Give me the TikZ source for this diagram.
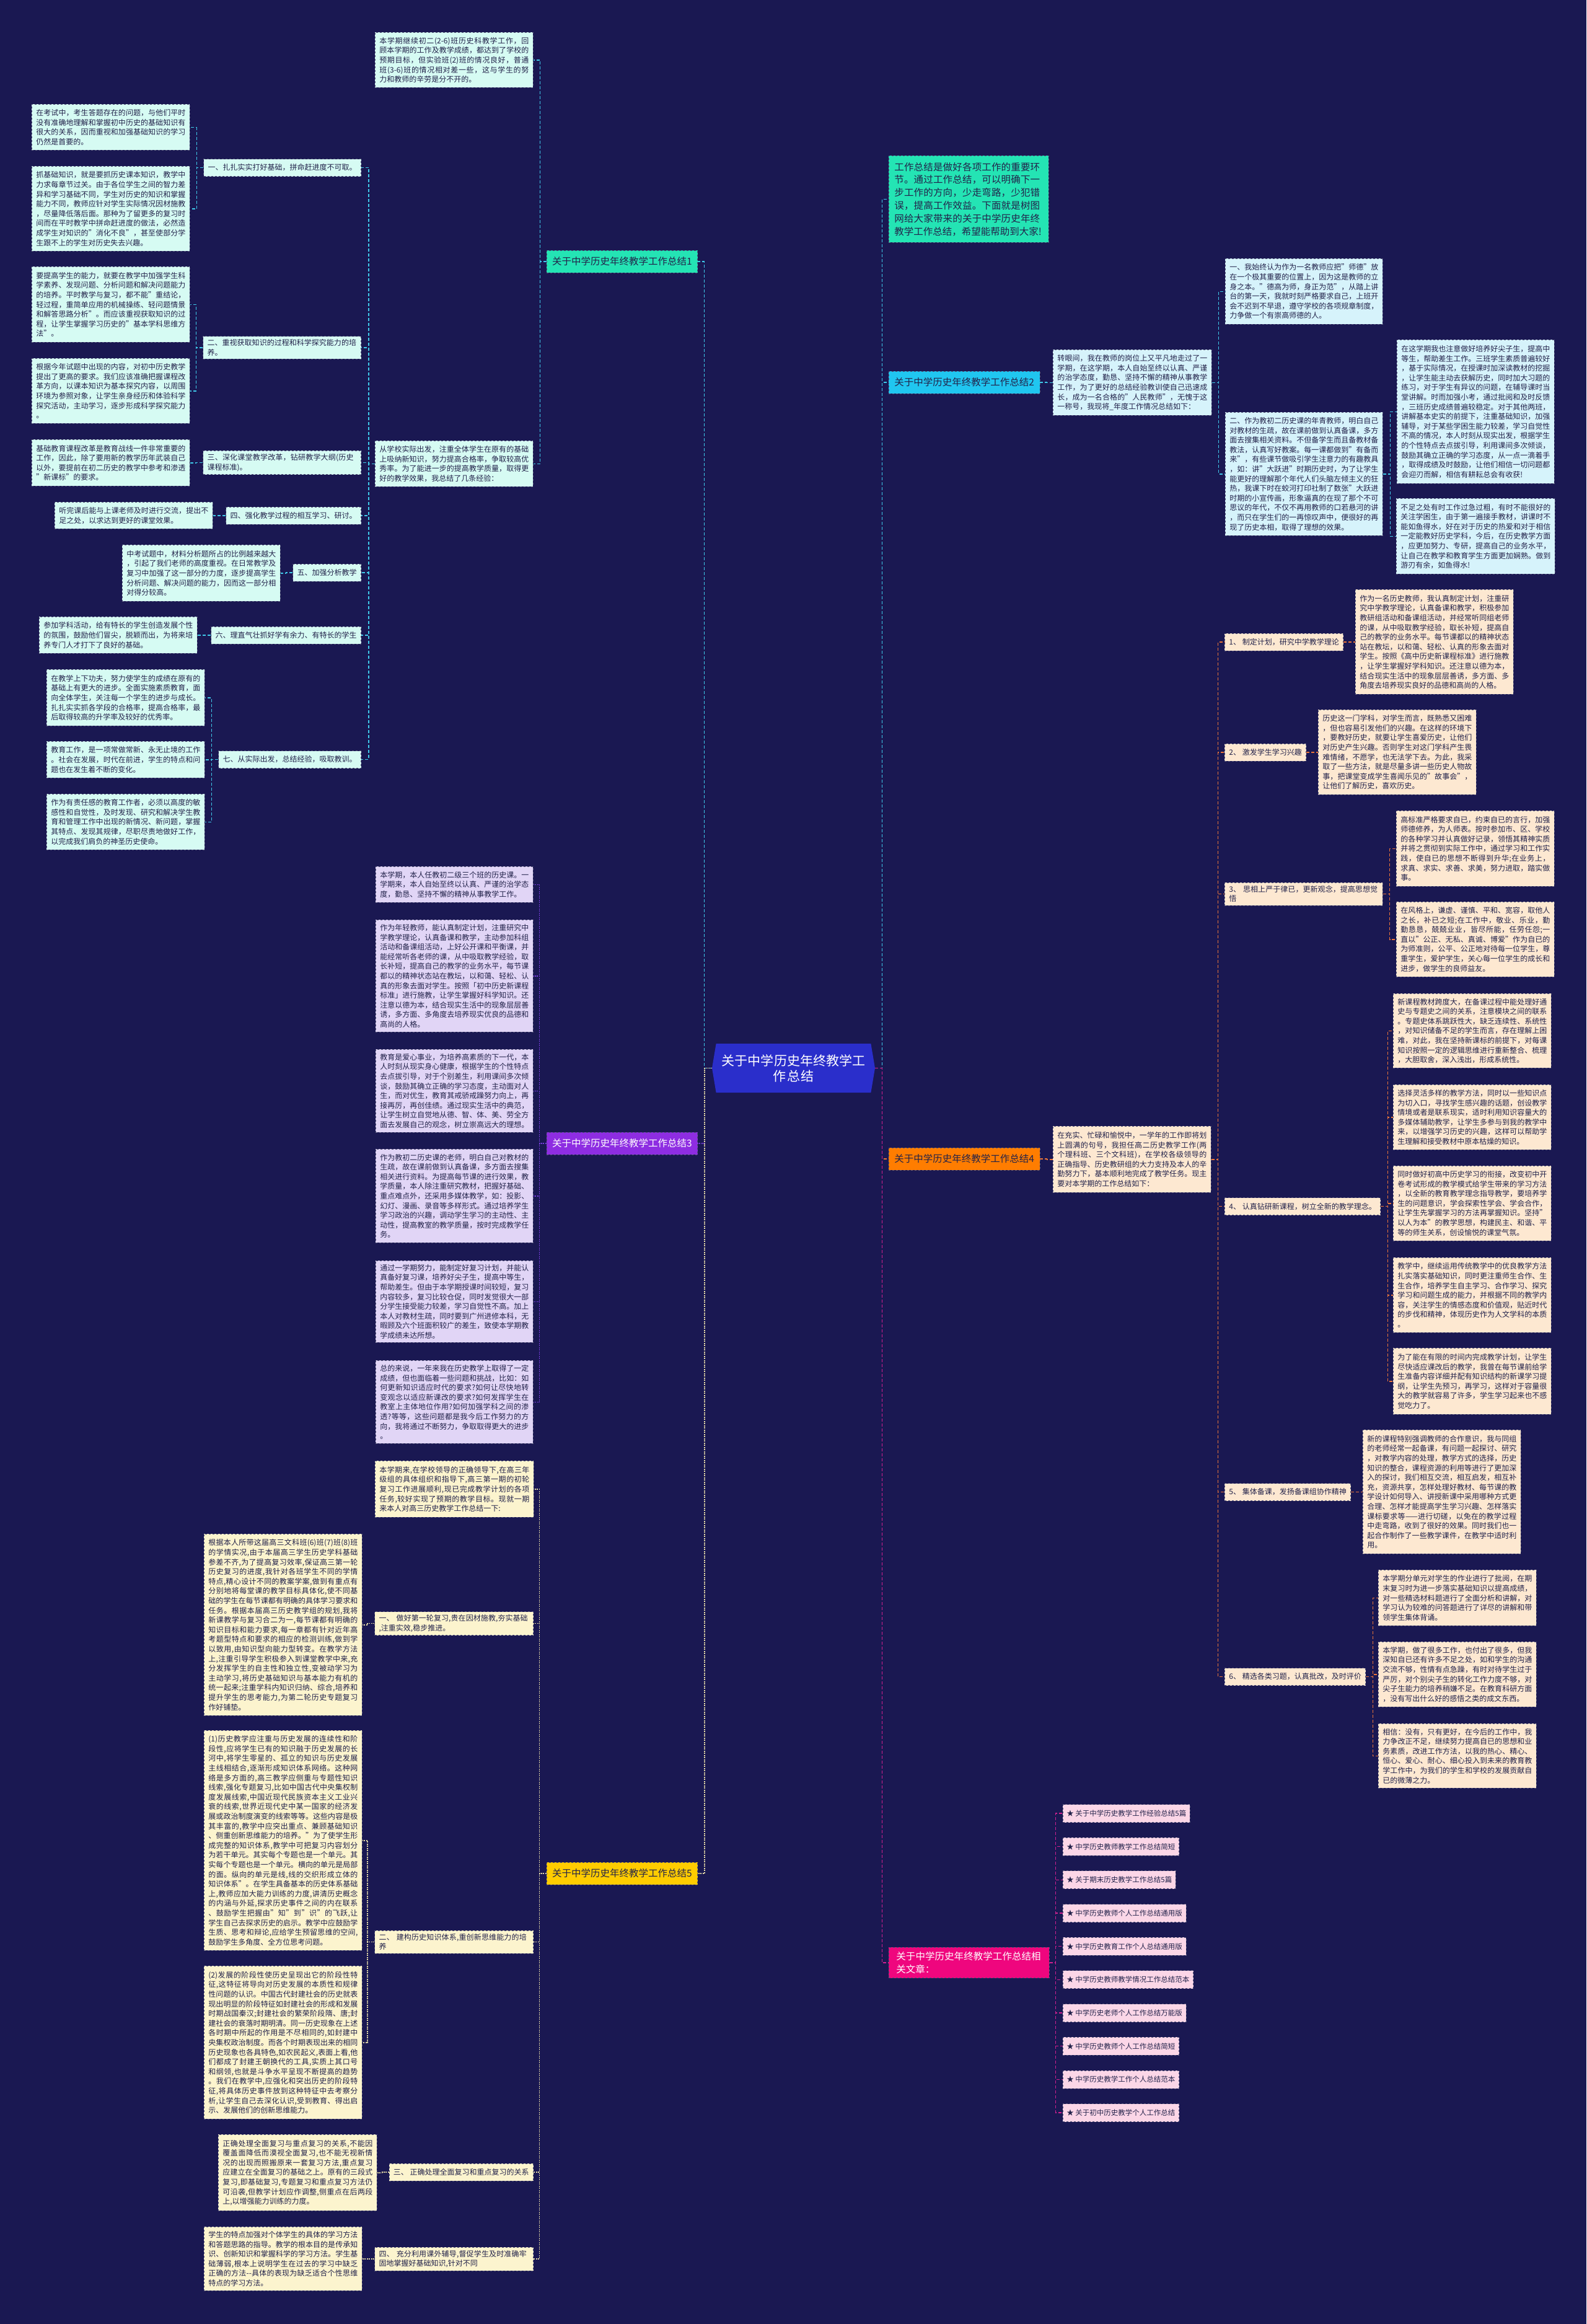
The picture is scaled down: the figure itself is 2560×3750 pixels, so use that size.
\documentclass[tikz,border=0pt]{standalone}
\usepackage{fontspec}
\setmainfont{Noto Sans CJK SC}
% break between any two CJK characters
\XeTeXinterchartokenstate=1
\newcount\cjkcode
\cjkcode="3000 \loop \XeTeXcharclass\cjkcode=1 \advance\cjkcode by 1 \ifnum\cjkcode<"3100 \repeat
\cjkcode="4E00 \loop \XeTeXcharclass\cjkcode=1 \advance\cjkcode by 1 \ifnum\cjkcode<"A000 \repeat
\cjkcode="FF00 \loop \XeTeXcharclass\cjkcode=1 \advance\cjkcode by 1 \ifnum\cjkcode<"FFF0 \repeat
\XeTeXinterchartoks 1 1 = {\hskip 0pt plus 1pt\relax}
\XeTeXinterchartoks 0 1 = {\hskip 0pt plus 1pt\relax}
\XeTeXinterchartoks 1 0 = {\hskip 0pt plus 1pt\relax}
\usepackage{tikz}
\usepackage{xcolor}
\usetikzlibrary{shapes.symbols, positioning}
\definecolor{Night_Navy}{HTML}{1A1852}
\definecolor{Core_Blue}{HTML}{2A2ECB}
\definecolor{Ink_Dark}{HTML}{22224A}
\definecolor{Box_Edge}{HTML}{55557A}
\definecolor{Sea_Teal}{HTML}{24E4B4}
\definecolor{Sky_Cyan}{HTML}{20C6F0}
\definecolor{Deep_Violet}{HTML}{8E2DE2}
\definecolor{Sun_Orange}{HTML}{FF7D00}
\definecolor{Gold_Yellow}{HTML}{FFCC00}
\definecolor{Hot_Pink}{HTML}{EF067E}
\definecolor{Mint_Fill}{HTML}{D6FBF3}
\definecolor{Ice_Fill}{HTML}{D6F3FB}
\definecolor{Lilac_Fill}{HTML}{E1D5F6}
\definecolor{Peach_Fill}{HTML}{FDE8D1}
\definecolor{Cream_Fill}{HTML}{FCF4CE}
\definecolor{Rose_Fill}{HTML}{FBD6E7}
\definecolor{Link_Cyan}{HTML}{3FC8E8}
\definecolor{Link_Violet}{HTML}{7A3FE0}
\definecolor{Link_Orange}{HTML}{E8743A}
\definecolor{Link_Straw}{HTML}{E6DCA8}
\definecolor{Link_Magenta}{HTML}{D0208F}

\begin{document}
\begin{tikzpicture}[x=1pt, y=-1pt,
    card/.style={draw=Box_Edge, dashed, line width=0.8pt, inner xsep=7pt, inner ysep=5pt,
        text=Ink_Dark, font=\fontsize{12}{15.6}\selectfont},
    leaf/.style={card, anchor=north west, text width=241pt, align=justify},
    mintbox/.style={leaf, fill=Mint_Fill},
    icebox/.style={leaf, fill=Ice_Fill},
    lilacbox/.style={leaf, fill=Lilac_Fill},
    peachbox/.style={leaf, fill=Peach_Fill},
    creambox/.style={leaf, fill=Cream_Fill},
    tagbox/.style={card, minimum height=28pt},
    branch/.style={draw=Box_Edge, dashed, line width=0.8pt, inner xsep=9pt, inner ysep=6pt,
        minimum height=36pt, font=\fontsize{15.5}{20.8}\selectfont},
    hub/.style={shape=signal, signal to=west and east, signal pointer angle=161, fill=Core_Blue,
        text=white, font=\fontsize{21}{25}\selectfont, align=center, text width=232pt,
        minimum width=263pt, minimum height=79pt},
    linkone/.style={draw=Link_Cyan, line width=1.3pt, dash pattern=on 5pt off 3pt},
    linkthree/.style={draw=Link_Violet, line width=1.6pt, dash pattern=on 2pt off 1.5pt},
    linkfour/.style={draw=Link_Orange, line width=1.3pt, dash pattern=on 5pt off 3pt},
    linkfive/.style={draw=Link_Straw, line width=1.6pt, dash pattern=on 2pt off 1.5pt},
    linksix/.style={draw=Link_Magenta, line width=1.3pt, dash pattern=on 5pt off 3pt}]

    % Background
    \fill[Night_Navy] (0,0) rectangle (2560,3750);
    \useasboundingbox (0,0) rectangle (2560,3750);

    % Centre
    \node[hub] (ctr) at (1280.5,1723.5) {关于中学历史年终教学工\\作总结};

    % Summary 1
    \node[branch, fill=Sea_Teal, text=Ink_Dark, anchor=east] (b1) at (1126,422) {关于中学历史年终教学工作总结1};
    \node[mintbox, minimum height=89pt] (i1a) at (605,52) {本学期继续初二(2-6)班历史科教学工作，回顾本学期的工作及教学成绩，都达到了学校的预期目标，但实验班(2)班的情况良好，普通班(3-6)班的情况相对差一些，这与学生的努力和教师的辛劳是分不开的。};
    \node[mintbox, minimum height=74pt] (i1b) at (605,711) {从学校实际出发，注重全体学生在原有的基础上吸纳新知识，努力提高合格率，争取较高优秀率。为了能进一步的提高教学质量，取得更好的教学效果，我总结了几条经验：};
    \node[tagbox, fill=Mint_Fill, anchor=east] (n11) at (583,270.5) {一、扎扎实实打好基础，拼命赶进度不可取。};
    \node[tagbox, fill=Mint_Fill, anchor=east, text width=241pt] (n12) at (583,561) {二、重视获取知识的过程和科学探究能力的培养。};
    \node[tagbox, fill=Mint_Fill, anchor=east, text width=241pt] (n13) at (583,746.5) {三、深化课堂教学改革，钻研教学大纲(历史课程标准)。};
    \node[tagbox, fill=Mint_Fill, anchor=east] (n14) at (583,832) {四、强化教学过程的相互学习、研讨。};
    \node[tagbox, fill=Mint_Fill, anchor=east] (n15) at (583,924) {五、加强分析教学};
    \node[tagbox, fill=Mint_Fill, anchor=east] (n16) at (583,1025) {六、理直气壮抓好学有余力、有特长的学生};
    \node[tagbox, fill=Mint_Fill, anchor=east] (n17) at (583,1225.5) {七、从实际出发，总结经验，吸取教训。};
    \node[mintbox, minimum height=74pt] (l1a) at (51,168) {在考试中，考生答题存在的问题，与他们平时没有准确地理解和掌握初中历史的基础知识有很大的关系，因而重视和加强基础知识的学习仍然是首要的。};
    \node[mintbox, minimum height=137pt] (l1b) at (51,268) {抓基础知识，就是要抓历史课本知识，教学中力求每章节过关。由于各位学生之间的智力差异和学习基础不同，学生对历史的知识和掌握能力不同，教师应针对学生实际情况因材施教，尽量降低落后面。那种为了留更多的复习时间而在平时教学中拼命赶进度的做法，必然造成学生对知识的"消化不良"，甚至使部分学生跟不上的学生对历史失去兴趣。};
    \node[mintbox, minimum height=122pt] (l1c) at (51,430) {要提高学生的能力，就要在教学中加强学生科学素养、发现问题、分析问题和解决问题能力的培养。平时教学与复习，都不能"重结论，轻过程，重简单应用的机械操练、轻问题情景和解答思路分析"。而应该重视获取知识的过程，让学生掌握学习历史的"基本学科思维方法"。};
    \node[mintbox, minimum height=105pt] (l1d) at (51,578) {根据今年试题中出现的内容，对初中历史教学提出了更高的要求。我们应该准确把握课程改革方向，以课本知识为基本探究内容，以周围环境为参照对象，让学生亲身经历和体验科学探究活动，主动学习，逐步形成科学探究能力。};
    \node[mintbox, minimum height=75pt] (l1e) at (51,709) {基础教育课程改革是教育战线一件非常重要的工作，因此，除了要用新的教学历年武装自己以外，要提前在初二历史的教学中参考和渗透"新课标"的要求。};
    \node[mintbox, minimum height=43pt] (l1f) at (88,810) {听完课后能与上课老师及时进行交流，提出不足之处，以求达到更好的课堂效果。};
    \node[mintbox, minimum height=91pt] (l1g) at (197,879) {中考试题中，材料分析题所占的比例越来越大，引起了我们老师的高度重视。在日常教学及复习中加强了这一部分的力度，逐步提高学生分析问题、解决问题的能力，因而这一部分相对得分较高。};
    \node[mintbox, minimum height=59pt] (l1h) at (63,995) {参加学科活动，给有特长的学生创造发展个性的氛围，鼓励他们冒尖，脱颖而出，为将来培养专门人才打下了良好的基础。};
    \node[mintbox, minimum height=91pt] (l1i) at (75,1080) {在教学上下功夫，努力使学生的成绩在原有的基础上有更大的进步。全面实施素质教育，面向全体学生，关注每一个学生的进步与成长。扎扎实实抓各学段的合格率，提高合格率，最后取得较高的升学率及较好的优秀率。};
    \node[mintbox, minimum height=59pt] (l1j) at (75,1196) {教育工作，是一项常做常新、永无止境的工作。社会在发展，时代在前进，学生的特点和问题也在发生着不断的变化。};
    \node[mintbox, minimum height=90pt] (l1k) at (75,1281) {作为有责任感的教育工作者，必须以高度的敏感性和自觉性，及时发现、研究和解决学生教育和管理工作中出现的新情况、新问题，掌握其特点、发现其规律，尽职尽责地做好工作，以完成我们肩负的神圣历史使命。};

    \draw[linkone] (ctr.west) -- ++(-12,0) |- (b1.east);
    \foreach \k in {i1a, i1b} \draw[linkone] (b1.west) -- ++(-10,0) |- (\k.east);
    \foreach \k in {n11, n12, n13, n14, n15, n16, n17} \draw[linkone] (i1b.west) -- ++(-10,0) |- (\k.east);
    \foreach \p/\k in {n11/l1a, n11/l1b, n12/l1c, n12/l1d, n13/l1e, n14/l1f, n15/l1g, n16/l1h, n17/l1i, n17/l1j, n17/l1k}
        \draw[linkone] (\p.west) -- ++(-11,0) |- (\k.east);

    % Intro and summary 2
    \node[branch, fill=Sea_Teal, text=Ink_Dark, anchor=north west, text width=240pt, inner xsep=9pt, inner ysep=7pt, minimum height=140pt] (intro) at (1434,251) {工作总结是做好各项工作的重要环节。通过工作总结，可以明确下一步工作的方向，少走弯路，少犯错误，提高工作效益。下面就是树图网给大家带来的关于中学历史年终教学工作总结，希望能帮助到大家!};
    \node[branch, fill=Sky_Cyan, text=Ink_Dark, anchor=west] (b2) at (1434,617) {关于中学历史年终教学工作总结2};
    \node[icebox, text width=242pt, minimum height=106pt] (i2) at (1699,564) {转眼间，我在教师的岗位上又平凡地走过了一学期，在这学期，本人自始至终以认真、严谨的治学态度，勤恳、坚持不懈的精神从事教学工作，为了更好的总结经验教训使自己迅速成长，成为一名合格的"人民教师"，无愧于这一称号，我现将\_年度工作情况总结如下：};
    \node[icebox, text width=240pt, minimum height=106pt] (n21) at (1977,417) {一、我始终认为作为一名教师应把"师德"放在一个极其重要的位置上，因为这是教师的立身之本。"德高为师，身正为范"，从踏上讲台的第一天，我就时刻严格要求自己，上班开会不迟到不早退，遵守学校的各项规章制度，力争做一个有崇高师德的人。};
    \node[icebox, text width=240pt, minimum height=199pt] (n22) at (1977,665) {二、作为教初二历史课的年青教师，明白自己对教材的生疏，故在课前做到认真备课，多方面去搜集相关资料。不但备学生而且备教材备教法，认真写好教案。每一课都做到"有备而来"，有些课节做吸引学生注意力的有趣教具，如：讲"大跃进"时期历史时，为了让学生能更好的理解那个年代人们头脑左倾主义的狂热，我课下时在蛟河打印社制了数张"大跃进时期的小宣传画，形象逼真的在现了那个不可思议的年代，不仅不再用教师的口若悬河的讲，而只在学生们的一再惊叹声中，便很好的再现了历史本相，取得了理想的效果。};
    \node[icebox, text width=240pt, minimum height=232pt] (l2a) at (2254,548) {在这学期我也注意做好培养好尖子生，提高中等生，帮助差生工作。三班学生素质普遍较好，基于实际情况，在授课时加深读教材的挖掘，让学生能主动去获解历史，同时加大习题的练习，对于学生有异议的问题，在辅导课时当堂讲解。时而加强小考，通过批阅和及时反馈，三班历史成绩普遍较稳定。对于其他两班，讲解基本史实的前提下，注重基础知识，加强辅导，对于某些学困生能力较差，学习自觉性不高的情况，本人时刻从现实出发，根据学生的个性特点去点拔引导，利用课间多次倾谈，鼓励其确立正确的学习态度，从一点一滴着手，取得成绩及时鼓励，让他们相信一切问题都会迎刃而解，相信有耕耘总会有收获!};
    \node[icebox, text width=242pt, minimum height=122pt] (l2b) at (2253,804) {不足之处有时工作过急过粗，有时不能很好的关注学困生，由于第一遍接手教材，讲课时不能如鱼得水，好在对于历史的热爱和对于相信一定能教好历史学科，今后，在历史教学方面，应更加努力、专研，提高自己的业务水平，让自己在教学和教育学生方面更加娴熟。做到游刃有余，如鱼得水!};

    \foreach \k in {intro, b2} \draw[linkone] (ctr.east) -- ++(11,0) |- (\k.west);
    \draw[linkone] (b2.east) -- ++(11,0) |- (i2.west);
    \foreach \k in {n21, n22} \draw[linkone] (i2.east) -- ++(11,0) |- (\k.west);
    \foreach \k in {l2a, l2b} \draw[linkone] (n22.east) -- ++(12,0) |- (\k.west);

    % Summary 3
    \node[branch, fill=Deep_Violet, text=white, anchor=east] (b3) at (1126,1845) {关于中学历史年终教学工作总结3};
    \node[lilacbox, text width=240pt, minimum height=58pt] (l3a) at (606,1398) {本学期，本人任教初二级三个班的历史课。一学期来，本人自始至终以认真、严谨的治学态度，勤恳、坚持不懈的精神从事教学工作。};
    \node[lilacbox, text width=240pt, minimum height=181pt] (l3b) at (606,1484) {作为年轻教师，能认真制定计划，注重研究中学教学理论，认真备课和教学，主动参加科组活动和备课组活动，上好公开课和平衡课，并能经常听各老师的课，从中吸取教学经验，取长补短，提高自己的教学的业务水平，每节课都以的精神状态站在教坛，以和蔼、轻松、认真的形象去面对学生。按照「初中历史新课程标准」进行施教，让学生掌握好科学知识。还注意以德为本，结合现实生活中的现象层层善诱，多方面、多角度去培养现实优良的品德和高尚的人格。};
    \node[lilacbox, text width=240pt, minimum height=134pt] (l3c) at (606,1693) {教育是爱心事业，为培养高素质的下一代，本人时刻从现实身心健康，根据学生的个性特点去点拔引导，对于个别差生，利用课间多次倾谈，鼓励其确立正确的学习态度，主动面对人生，而对优生，教育其戒骄戒躁努力向上，再接再厉，再创佳绩。通过现实生活中的典范，让学生树立自觉地从德、智、体、美、劳全方面去发展自己的观念，树立崇高远大的理想。};
    \node[lilacbox, text width=240pt, minimum height=151pt] (l3d) at (606,1854) {作为教初二历史课的老师，明白自己对教材的生疏，故在课前做到认真备课，多方面去搜集相关进行资料。为提高每节课的进行效果，教学质量，本人除注重研究教材，把握好基础、重点难点外，还采用多媒体教学，如：投影、幻灯、漫画、录音等多样形式。通过培养学生学习政治的兴趣，调动学生学习的主动性、主动性，提高教室的教学质量，按时完成教学任务。};
    \node[lilacbox, text width=240pt, minimum height=132pt] (l3e) at (606,2034) {通过一学期努力，能制定好复习计划，并能认真备好复习课，培养好尖子生，提高中等生，帮助差生。但由于本学期授课时间较短，复习内容较多，复习比较仓促，同时发觉很大一部分学生接受能力较差，学习自觉性不高。加上本人对教材生疏，同时要到广州进修本科，无暇顾及六个班面积较广的差生，致使本学期教学成绩未达所想。};
    \node[lilacbox, text width=240pt, minimum height=134pt] (l3f) at (606,2195) {总的来说，一年来我在历史教学上取得了一定成绩，但也面临着一些问题和挑战，比如：如何更新知识适应时代的要求?如何让尽快地转变观念以适应新课改的要求?如何发挥学生在教室上主体地位作用?如何加强学科之间的渗透?等等，这些问题都是我今后工作努力的方向，我将通过不断努力，争取取得更大的进步。};

    \draw[linkthree] (ctr.west) -- ++(-12,0) |- (b3.east);
    \foreach \k in {l3a, l3b, l3c, l3d, l3e, l3f} \draw[linkthree] (b3.west) -- ++(-11,0) |- (\k.east);

    % Summary 4
    \node[branch, fill=Sun_Orange, text=Ink_Dark, anchor=west] (b4) at (1434,1870) {关于中学历史年终教学工作总结4};
    \node[peachbox, minimum height=107pt] (i4) at (1699,1817) {在充实、忙碌和愉悦中，一学年的工作即将划上圆满的句号，我担任高二历史教学工作(两个理科班、三个文科班)，在学校各级领导的正确指导、历史教研组的大力支持及本人的辛勤努力下，基本顺利地完成了教学任务。现主要对本学期的工作总结如下：};
    \node[tagbox, fill=Peach_Fill, anchor=west] (n41) at (1976,1036) {1、 制定计划，研究中学教学理论};
    \node[tagbox, fill=Peach_Fill, anchor=west] (n42) at (1976,1214) {2、 激发学生学习兴趣};
    \node[tagbox, fill=Peach_Fill, anchor=west, text width=241pt] (n43) at (1976,1442.5) {3、 思相上严于律已，更新观念，提高思想觉悟};
    \node[tagbox, fill=Peach_Fill, anchor=west] (n44) at (1976,1946.5) {4、 认真钻研新课程，树立全新的教学理念。};
    \node[tagbox, fill=Peach_Fill, anchor=west] (n45) at (1976,2407.5) {5、 集体备课，发扬备课组协作精神};
    \node[tagbox, fill=Peach_Fill, anchor=west] (n46) at (1976,2705.5) {6、 精选各类习题，认真批改，及时评价};
    \node[peachbox, minimum height=169pt] (l4a) at (2187,951) {作为一名历史教师，我认真制定计划，注重研究中学教学理论，认真备课和教学，积极参加教研组活动和备课组活动，并经常听同组老师的课，从中吸取教学经验，取长补短，提高自己的教学的业务水平。每节课都以的精神状态站在教坛，以和蔼、轻松、认真的形象去面对学生。按照《高中历史新课程标准》进行施教，让学生掌握好学科知识。还注意以德为本，结合现实生活中的现象层层善诱，多方面、多角度去培养现实良好的品德和高尚的人格。};
    \node[peachbox, minimum height=137pt] (l4b) at (2127,1145) {历史这一门学科，对学生而言，既熟悉又困难，但也容易引发他们的兴趣。在这样的环境下，要教好历史，就要让学生喜爱历史，让他们对历史产生兴趣。否则学生对这门学科产生畏难情绪，不愿学，也无法学下去。为此，我采取了一些方法，就是尽量多讲一些历史人物故事，把课堂变成学生喜闻乐见的"故事会"，让他们了解历史，喜欢历史。};
    \node[peachbox, minimum height=122pt] (l4c) at (2253,1308) {高标准严格要求自已，约束自已的言行，加强师德修养，为人师表。按时参加市、区、学校的各种学习并认真做好记录，领悟其精神实质并将之贯彻到实际工作中，通过学习和工作实践，使自已的思想不断得到升华;在业务上，求真、求实、求善、求美，努力进取，踏实做事。};
    \node[peachbox, minimum height=121pt] (l4d) at (2253,1455) {在风格上，谦虚、谨慎、平和、宽容，取他人之长，补已之短;在工作中，敬业、乐业，勤勤恳恳，兢兢业业，皆尽所能，任劳任怨;一直以"公正、无私、真诚、博爱"作为自已的为师准则，公平、公正地对待每一位学生，尊重学生，爱护学生，关心每一位学生的成长和进步，做学生的良师益友。};
    \node[peachbox, minimum height=120pt] (l4e) at (2248,1603) {新课程教材跨度大，在备课过程中能处理好通史与专题史之间的关系，注意模块之间的联系。专题史体系跳跃性大，缺乏连续性、系统性，对知识储备不足的学生而言，存在理解上困难，对此，我在坚持新课标的前提下，对每课知识按照一定的逻辑思维进行重新整合、梳理，大胆取舍，深入浅出，形成系统性。};
    \node[peachbox, minimum height=105pt] (l4f) at (2248,1750) {选择灵活多样的教学方法，同时以一些知识点为切入口，寻找学生感兴趣的话题，创设教学情境或者是联系现实，适时利用知识容量大的多媒体辅助教学，让学生多参与到我的教学中来，以增强学习历史的兴趣，这样可以帮助学生理解和接受教材中原本枯燥的知识。};
    \node[peachbox, minimum height=121pt] (l4g) at (2248,1881) {同时做好初高中历史学习的衔接，改变初中开卷考试形成的教学模式给学生带来的学习方法，以全新的教育教学理念指导教学，要培养学生的问题意识，学会探索性学会、学会合作，让学生先掌握学习的方法再掌握知识。坚持"以人为本"的教学思想，构建民主、和谐、平等的师生关系，创设愉悦的课堂气氛。};
    \node[peachbox, minimum height=121pt] (l4h) at (2248,2029) {教学中，继续运用传统教学中的优良教学方法扎实落实基础知识，同时更注重师生合作、生生合作，培养学生自主学习、合作学习、探究学习和问题生成的能力，并根据不同的教学内容，关注学生的情感态度和价值观，贴近时代的步伐和精神，体现历史作为人文学科的本质。};
    \node[peachbox, minimum height=107pt] (l4i) at (2248,2175) {为了能在有限的时间内完成教学计划，让学生尽快适应课改后的教学，我曾在每节课前给学生准备内容详细并配有知识结构的新课学习提纲，让学生先预习，再学习，这样对于容量很大的教学就容易了许多，学生学习起来也不感觉吃力了。};
    \node[peachbox, minimum height=200pt] (l4j) at (2199,2307) {新的课程特别强调教师的合作意识，我与同组的老师经常一起备课，有问题一起探讨、研究，对教学内容的处理，教学方式的选择，历史知识的整合，课程资源的利用等进行了更加深入的探讨，我们相互交流，相互启发，相互补充，资源共享，怎样处理好教材、每节课的教学设计如何导入、讲授新课中采用哪种方式更合理、怎样才能提高学生学习兴趣、怎样落实课标要求等——进行切磋，以免在的教学过程中走弯路，收到了很好的效果。同时我们也一起合作制作了一些教学课件，在教学中适时利用。};
    \node[peachbox, minimum height=90pt] (l4k) at (2224,2533) {本学期分单元对学生的作业进行了批阅，在期末复习时为进一步落实基础知识以提高成绩，对一些精选材料题进行了全面分析和讲解，对学习认为较难的问答题进行了详尽的讲解和带领学生集体背诵。};
    \node[peachbox, minimum height=105pt] (l4l) at (2224,2649) {本学期，做了很多工作，也付出了很多，但我深知自已还有许多不足之处，如和学生的沟通交流不够，性情有点急躁，有时对待学生过于严厉，对个别尖子生的转化工作力度不够，对尖子生能力的培养稍嫌不足。在教育科研方面，没有写出什么好的感悟之类的成文东西。};
    \node[peachbox, minimum height=104pt] (l4m) at (2224,2781) {相信：没有，只有更好，在今后的工作中，我力争改正不足，继续努力提高自已的思想和业务素质，改进工作方法，以我的热心、精心、恒心、爱心、耐心、细心投入到未来的教育教学工作中，为我们的学生和学校的发展贡献自已的微薄之力。};

    \draw[linkfour] (ctr.east) -- ++(11,0) |- (b4.west);
    \draw[linkfour] (b4.east) -- ++(11,0) |- (i4.west);
    \foreach \k in {n41, n42, n43, n44, n45, n46} \draw[linkfour] (i4.east) -- ++(11,0) |- (\k.west);
    \foreach \p/\k in {n41/l4a, n42/l4b, n43/l4c, n43/l4d, n44/l4e, n44/l4f, n44/l4g, n44/l4h, n44/l4i, n45/l4j, n46/l4k, n46/l4l, n46/l4m}
        \draw[linkfour] (\p.east) -- ++(11,0) |- (\k.west);

    % Summary 5
    \node[branch, fill=Gold_Yellow, text=Ink_Dark, anchor=east] (b5) at (1126,3023) {关于中学历史年终教学工作总结5};
    \node[creambox, text width=242pt, minimum height=91pt] (i5) at (605,2357) {本学期来,在学校领导的正确领导下,在高三年级组的具体组织和指导下,高三第一期的初轮复习工作进展顺利,现已完成教学计划的各项任务,较好实现了预期的教学目标。现就一期来本人对高三历史教学工作总结一下:};
    \node[tagbox, fill=Cream_Fill, anchor=east, text width=242pt] (n51) at (861,2619.5) {一、 做好第一轮复习,贵在因材施教,夯实基础,注重实效,稳步推进。};
    \node[tagbox, fill=Cream_Fill, anchor=east, text width=242pt] (n52) at (861,3133.5) {二、 建构历史知识体系,重创新思维能力的培养};
    \node[tagbox, fill=Cream_Fill, anchor=east] (n53) at (861,3505) {三、 正确处理全面复习和重点复习的关系};
    \node[tagbox, fill=Cream_Fill, anchor=east, text width=242pt] (n54) at (861,3645) {四、 充分利用课外辅导,督促学生及时准确牢固地掌握好基础知识,针对不同};
    \node[creambox, minimum height=293pt] (l5a) at (329,2475) {根据本人所带这届高三文科班(6)班(7)班(8)班的学情实况,由于本届高三学生历史学科基础参差不齐,为了提高复习效率,保证高三第一轮历史复习的进度,我针对各班学生不同的学情特点,精心设计不同的教案学案,做到有重点有分别地将每堂课的教学目标具体化,使不同基础的学生在每节课都有明确的具体学习要求和任务。根据本届高三历史教学组的规划,我将新课教学与复习合二为一,每节课都有明确的知识目标和能力要求,每一章都有针对近年高考题型特点和要求的相应的检测训练,做到学以致用,由知识型向能力型转变。在教学方法上,注重引导学生积极参入到课堂教学中来,充分发挥学生的自主性和独立性,变被动学习为主动学习,将历史基础知识与基本能力有机的统一起来;注重学科内知识归纳、综合,培养和提升学生的思考能力,为第二轮历史专题复习作好铺垫。};
    \node[creambox, minimum height=355pt] (l5b) at (329,2792) {(1)历史教学应注重与历史发展的连续性和阶段性,应将学生已有的知识融于历史发展的长河中,将学生零星的、孤立的知识与历史发展主线相结合,逐渐形成知识体系网络。这种网络是多方面的,高三教学应侧重与专题性知识线索,强化专题复习,比如中国古代中央集权制度发展线索,中国近现代民族资本主义工业兴衰的线索,世界近现代史中某一国家的经济发展或政治制度演变的线索等等。这些内容是极其丰富的,教学中应突出重点、兼顾基础知识、侧重创新思维能力的培养。"为了使学生形成完整的知识体系,教学中可把复习内容划分为若干单元。其实每个专题也是一个单元。其实每个专题也是一个单元。横向的单元是局部的面。纵向的单元是线,线的交织形成立体的知识体系"。在学生具备基本的历史体系基础上,教师应加大能力训练的力度,讲清历史概念的内涵与外延,探求历史事件之间的内在联系、鼓励学生把握由"知"到"识"的飞跃,让学生自己去探求历史的启示。教学中应鼓励学生质、思考和辩论,应给学生预留思维的空间,鼓励学生多角度、全方位思考问题。};
    \node[creambox, minimum height=247pt] (l5c) at (329,3172) {(2)发展的阶段性使历史呈现出它的阶段性特征,这特征将导向对历史发展的本质性和规律性问题的认识。中国古代封建社会的历史就表现出明显的阶段特征如封建社会的形成和发展时期战国秦汉;封建社会的繁荣阶段隋、唐;封建社会的衰落时期明清。同一历史现象在上述各时期中所起的作用是不尽相同的,如封建中央集权政治制度。而各个时期表现出来的相同历史现象也各具特色,如农民起义,表面上看,他们都成了封建王朝换代的工具,实质上其口号和纲领,也就是斗争水平呈现不断提高的趋势。我们在教学中,应强化和突出历史的阶段特征,将具体历史事件放到这种特征中去考察分析,让学生自己去深化认识,受到教育、得出启示、发展他们的创新思维能力。};
    \node[creambox, text width=242pt, minimum height=123pt] (l5d) at (352,3444) {正确处理全面复习与重点复习的关系,不能因覆盖面降低而漠视全面复习,也不能无视新情况的出现而照搬原来一套复习方法,重点复习应建立在全面复习的基础之上。原有的三段式复习,即基础复习,专题复习和重点复习方法仍可沿袭,但教学计划应作调整,侧重点在后两段上,以增强能力训练的力度。};
    \node[creambox, minimum height=103pt] (l5e) at (329,3593) {学生的特点加强对个体学生的具体的学习方法和答题思路的指导。教学的根本目的是传承知识、创新知识和掌握科学的学习方法。学生基础薄弱,根本上说明学生在过去的学习中缺乏正确的方法-{}-具体的表现为缺乏适合个性思维特点的学习方法。};

    \draw[linkfive] (ctr.west) -- ++(-12,0) |- (b5.east);
    \foreach \k in {i5, n51, n52, n53, n54} \draw[linkfive] (b5.west) -- ++(-11,0) |- (\k.east);
    \foreach \p/\k in {n51/l5a, n52/l5b, n52/l5c, n53/l5d, n54/l5e}
        \draw[linkfive] (\p.west) -- ++(-11,0) |- (\k.east);

    % Related articles
    \node[branch, fill=Hot_Pink, text=white, anchor=west, text width=235pt, inner xsep=12pt, inner ysep=7pt] (b6) at (1434,3167) {关于中学历史年终教学工作总结相关文章：};
    \draw[linksix] (ctr.east) -- ++(11,0) |- (b6.west);
    \foreach \t [count=\i] in {关于中学历史教学工作经验总结5篇, 中学历史教师教学工作总结简短, 关于期末历史教学工作总结5篇, 中学历史教师个人工作总结通用版, 中学历史教育工作个人总结通用版, 中学历史教师教学情况工作总结范本, 中学历史老师个人工作总结万能版, 中学历史教师个人工作总结简短, 中学历史教学工作个人总结范本, 关于初中历史教学个人工作总结} {
        \node[card, fill=Rose_Fill, anchor=west, minimum height=29pt, inner xsep=6pt, font=\fontsize{11.5}{14}\selectfont] (r\i) at (1715,{2926+53.67*(\i-1)}) {★ \t};
        \draw[linksix] (b6.east) -- ++(10,0) |- (r\i.west);
    }
\end{tikzpicture}
\end{document}
